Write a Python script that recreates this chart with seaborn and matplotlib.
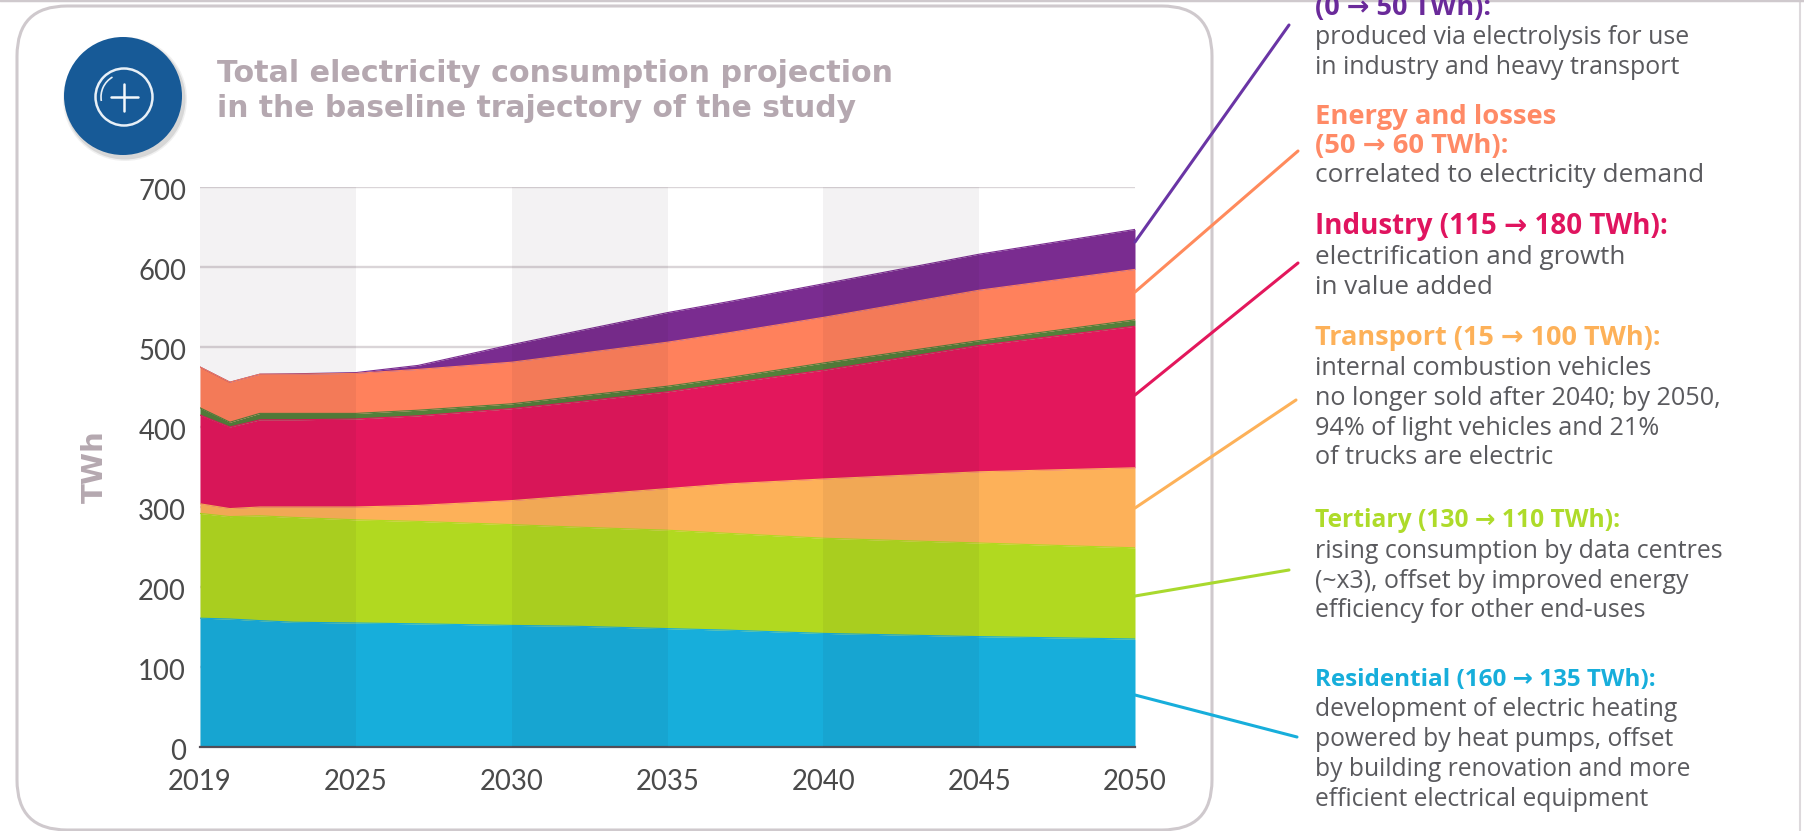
import matplotlib
matplotlib.use("Agg")
import matplotlib.pyplot as plt
from matplotlib.lines import Line2D
from matplotlib.patches import FancyBboxPatch, Circle, Arc
from matplotlib.transforms import ScaledTranslation
import numpy as np
import pandas as pd
import seaborn as sns

W, H = 1804, 831

# x axis: labelled ticks are evenly spaced, "2019" sits one slot before 2025
axis_pos = [2020, 2020.96, 2021.92, 2023, 2025, 2027, 2030, 2032, 2035, 2037, 2040, 2045, 2050]
tick_pos = [2020, 2025, 2030, 2035, 2040, 2045, 2050]
tick_labels = ["2019", "2025", "2030", "2035", "2040", "2045", "2050"]
y_ticks = [0, 100, 200, 300, 400, 500, 600, 700]

# Cumulative tops of every layer, TWh
residential = [161, 160, 158, 156, 155, 154, 152, 151, 148, 146, 142, 138, 135]
tertiary    = [292, 288, 289, 287, 284, 282, 278, 275, 271, 267, 261, 255, 249]
transport   = [304, 298, 300, 300, 300, 302, 308, 314, 323, 329, 335, 344, 349]
industry    = [415, 400, 409, 409, 410, 414, 423, 431, 444, 455, 471, 502, 526]
other       = [424, 406, 417, 417, 417, 421, 429, 438, 451, 462, 480, 508, 534]
energy      = [475, 456, 466, 466, 467, 472, 481, 491, 506, 518, 537, 571, 597]
hydrogen    = [475, 456, 466, 466.5, 468, 477, 503, 519, 543, 557, 579, 616, 647]

layer_names = ["Residential", "Tertiary", "Transport", "Industry", "Other", "Energy", "Hydrogen"]
layer_tops = [residential, tertiary, transport, industry, other, energy, hydrogen]
layer_colors = ["#17AEDB", "#B1D920", "#FDB159", "#E3175C", "#53803A", "#FF815C", "#7A2C90"]

bands = [(2020, 2025), (2030, 2035), (2040, 2045)]

title_lines = ["Total electricity consumption projection", "in the baseline trajectory of the study"]

# (text, colour, centre y in px, font size)
notes = [
    ("(0 \u2192 50 TWh):", "#6A2A9A", 7, 19.5),
    ("produced via electrolysis for use", None, 36, 17.9),
    ("in industry and heavy transport", None, 66, 17.9),
    ("Energy and losses", "#FF8A66", 116, 19.7),
    ("(50 \u2192 60 TWh):", "#FF8A66", 145, 19.7),
    ("correlated to electricity demand", None, 174, 18.8),
    ("Industry (115 \u2192 180 TWh):", "#E0145F", 226, 20.0),
    ("electrification and growth", None, 256, 18.7),
    ("in value added", None, 286, 18.7),
    ("Transport (15 \u2192 100 TWh):", "#FDB159", 337, 19.5),
    ("internal combustion vehicles", None, 367, 18.2),
    ("no longer sold after 2040; by 2050,", None, 397, 18.2),
    ("94% of light vehicles and 21%", None, 427, 18.2),
    ("of trucks are electric", None, 456, 18.2),
    ("Tertiary (130 \u2192 110 TWh):", "#AEDB2A", 519, 17.7),
    ("rising consumption by data centres", None, 550, 17.9),
    ("(~x3), offset by improved energy", None, 580, 17.9),
    ("efficiency for other end-uses", None, 609, 17.9),
    ("Residential (160 \u2192 135 TWh):", "#17AEDB", 678, 17.5),
    ("development of electric heating", None, 708, 17.7),
    ("powered by heat pumps, offset", None, 738, 17.7),
    ("by building renovation and more", None, 768, 17.7),
    ("efficient electrical equipment", None, 798, 17.7),
]

leaders = [
    ("#6A35A5", (1135, 242), (1289, 25)),
    ("#FF8A5C", (1135, 292), (1298, 151)),
    ("#E3175C", (1135, 395), (1298, 263)),
    ("#FDB159", (1135, 508), (1296, 400)),
    ("#A9D92E", (1135, 596), (1289, 570)),
    ("#17AEDB", (1135, 695), (1297, 737)),
]

sns.set_theme(style="white")
plt.rcParams["font.family"] = ["Open Sans", "DejaVu Sans"]

fig = plt.figure(figsize=(W / 100, H / 100), dpi=100, facecolor="white")

def fx(x):
    return x / W

def fy(y):
    return 1 - y / H

# outer frame (in a full-figure, pixel-coordinate axes)
bg = fig.add_axes([0, 0, 1, 1], zorder=0)
bg.set_xlim(0, W)
bg.set_ylim(H, 0)
bg.axis("off")
bg.add_patch(FancyBboxPatch((17 + 50, 6 + 50), 1195 - 100, 824 - 100,
                            boxstyle="round,pad=50,rounding_size=50",
                            fc="white", ec="#CFC9CD", lw=2.2))
bg.plot([1800, 1800], [0, H], color="#DDD9DC", lw=1.5)
bg.plot([0, W], [0, 0], color="#CFC9CD", lw=2.5)

# icon
for r, a in [(62, 0.08), (60.5, 0.14)]:
    bg.add_patch(Circle((125, 99), r, fc="#444444", ec="none", alpha=a))
bg.add_patch(Circle((123, 96), 59, fc="#175A97", ec="none"))
bg.add_patch(Circle((124, 97), 28.5, fc="none", ec="#E8F0F7", lw=1.8))
bg.add_patch(Arc((124, 97), 46, 46, theta1=170, theta2=240, ec="#E8F0F7", lw=1.2))
bg.plot([111, 138], [97, 97], color="#F4F8FB", lw=1.8)
bg.plot([124, 124], [84, 111], color="#F4F8FB", lw=1.8)

# main axes
L, R, T, B = 200, 1135, 187, 747
ax = fig.add_axes([fx(L), fy(B), (R - L) / W, (B - T) / H], zorder=1)
ax.patch.set_alpha(0)

long = pd.DataFrame([
    {"x": x, "top": v, "layer": n}
    for n, tops in zip(layer_names, layer_tops)
    for x, v in zip(axis_pos, tops)
])

lower = [np.zeros(len(axis_pos))] + [np.array(t, float) for t in layer_tops[:-1]]
for lo, top, col in zip(lower, layer_tops, layer_colors):
    ax.fill_between(axis_pos, lo, top, color=col, lw=0, zorder=2)
sns.lineplot(data=long, x="x", y="top", hue="layer", hue_order=layer_names[::-1],
             palette=dict(zip(layer_names, layer_colors)), legend=False, lw=0.8,
             ax=ax, zorder=3, estimator=None, sort=False)

for a, b in bands:
    ax.axvspan(a, b, color="#1A0A1A", alpha=0.05, lw=0, zorder=4)

ax.set_xlim(2020, 2050)
ax.set_ylim(0, 700)
ax.set_xticks(tick_pos, tick_labels)
ax.set_yticks(y_ticks)
ax.set_xlabel("")
ax.set_ylabel("")
ax.grid(axis="y", color="#DAD5D8", lw=1.7, zorder=1)
ax.grid(axis="x", visible=False)
ax.set_axisbelow(True)
sns.despine(ax=ax, left=True, top=True, right=True)
ax.spines["bottom"].set_color("#55505A")
ax.spines["bottom"].set_linewidth(1.6)
ax.tick_params(axis="both", length=0, labelsize=19.8, labelcolor="#4A4A4A")
ax.tick_params(axis="y", pad=10)
ax.tick_params(axis="x", pad=16)
for lab in ax.get_xticklabels() + ax.get_yticklabels():
    lab.set_fontfamily(["Lato", "DejaVu Sans"])
shift = ScaledTranslation(0, -3 / 100, fig.dpi_scale_trans)
for tick in ax.yaxis.get_major_ticks():
    tick.label1.set_transform(tick.label1.get_transform() + shift)

# overlay axes for leaders and text
ov = fig.add_axes([0, 0, 1, 1], zorder=2)
ov.set_xlim(0, W)
ov.set_ylim(H, 0)
ov.axis("off")
ov.patch.set_alpha(0)

for col, p0, p1 in leaders:
    ov.add_line(Line2D([p0[0], p1[0]], [p0[1], p1[1]], color=col, lw=2.2,
                       solid_capstyle="round"))

ov.text(217, 71 + 11, title_lines[0], color="#B5A8B0", fontsize=21.7, fontweight="bold",
        family=["DejaVu Sans"], va="baseline", ha="left")
ov.text(217, 106 + 11, title_lines[1], color="#B5A8B0", fontsize=21.4, fontweight="bold",
        family=["DejaVu Sans"], va="baseline", ha="left")
ov.text(95, 467, "TWh", color="#B5A8B0", fontsize=21, fontweight="bold", rotation=90,
        family=["DejaVu Sans"], va="center", ha="center")

for txt, col, yc, size in notes:
    bold = col is not None
    ov.text(1315, yc + 8, txt, color=col or "#5A5A5E", fontsize=size,
            fontweight="bold" if bold else "normal",
            family=["Open Sans", "DejaVu Sans"], va="baseline", ha="left")

fig.savefig("out.png", dpi=100, facecolor="white")
